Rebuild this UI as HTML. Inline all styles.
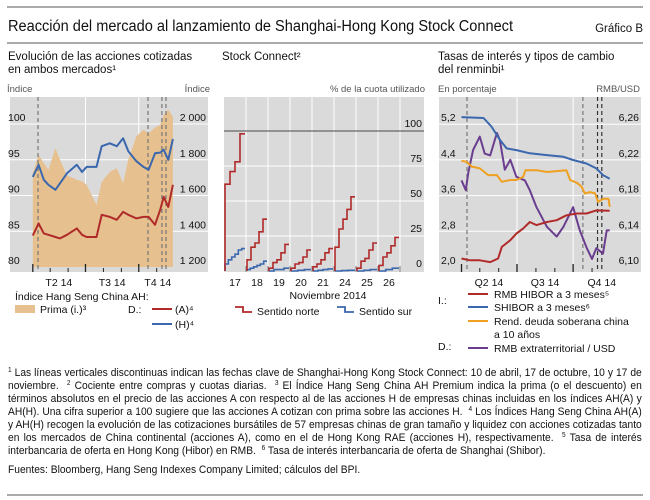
<!DOCTYPE html>
<html><head><meta charset="utf-8">
<style>
body{margin:0;width:650px;height:500px;background:#fff;overflow:hidden;font-family:"Liberation Sans",sans-serif;}
#root{position:relative;width:650px;height:500px;}
.fn{position:absolute;left:8px;width:680px;font-size:11px;line-height:13px;color:#111;text-align:justify;transform:scaleX(0.932);transform-origin:0 0;}
.fn sup{font-size:7px;line-height:0;vertical-align:4px;}
</style></head>
<body>
<div id="root">
<svg id="svg" width="650" height="500" style="position:absolute;left:0;top:0" font-family="Liberation Sans, sans-serif">
<line x1="7" y1="7" x2="643" y2="7" stroke="#777" stroke-width="1.2"/>
<text x="8" y="31" font-size="15.5" fill="#111" textLength="505" lengthAdjust="spacingAndGlyphs">Reacción del mercado al lanzamiento de Shanghai-Hong Kong Stock Connect</text>
<text x="643" y="32" font-size="11.5" fill="#111" text-anchor="end">Gráfico B</text>
<line x1="7" y1="43" x2="643" y2="43" stroke="#777" stroke-width="1.2"/>
<g id="p1"></g>
<g id="p2"></g>
<g id="p3"></g>
<line x1="7" y1="495" x2="643" y2="495" stroke="#777" stroke-width="1.2"/>
</svg>
<div class="fn" style="top:367px"><sup>1</sup> Las líneas verticales discontinuas indican las fechas clave de Shanghai-Hong Kong Stock Connect: 10 de abril, 17 de octubre, 10 y 17 de noviembre. &nbsp;<sup>2</sup> Cociente entre compras y cuotas diarias. &nbsp;<sup>3</sup> El Índice Hang Seng China AH Premium indica la prima (o el descuento) en términos absolutos en el precio de las acciones A con respecto al de las acciones H de empresas chinas incluidas en los índices AH(A) y AH(H). Una cifra superior a 100 sugiere que las acciones A cotizan con prima sobre las acciones H. &nbsp;<sup>4</sup> Los Índices Hang Seng China AH(A) y AH(H) recogen la evolución de las cotizaciones bursátiles de 57 empresas chinas de gran tamaño y liquidez con acciones cotizadas tanto en los mercados de China continental (acciones A), como en el de Hong Kong RAE (acciones H), respectivamente. &nbsp;<sup>5</sup> Tasa de interés interbancaria de oferta en Hong Kong (Hibor) en RMB. &nbsp;<sup>6</sup> Tasa de interés interbancaria de oferta de Shanghai (Shibor).</div>
<div class="fn" style="top:464px">Fuentes: Bloomberg, Hang Seng Indexes Company Limited; cálculos del BPI.</div>
</div>
<script>
// ---------- Panel 1 data (days since 1 Apr 2014) ----------
const p1Days = [0,10,19,27,39,47,59,76,85,93,110,119,133,145,156,165,179,191,200,211,220,226,234,242];
const p1H    = [92.6,94.3,92.2,91.5,90.8,91.7,93.1,94.3,93.3,94,94,96.9,97.3,96.9,98,96.2,94.8,94,93.6,95.9,96,96.4,95,97.9];
const p1A    = [84.4,86.1,84.7,84.5,84.2,84,84.5,85.4,84.5,84.2,84.2,87.3,87,86.6,87.7,87.3,86.8,87,87,85.9,88,89.8,88.4,91.5];
const p1Prem = [93.1,95.7,94.5,93.6,96.6,95,92.8,92.2,92,91.5,88.7,91.9,93.3,93.8,91.7,95,98.3,99.2,98.7,99.5,99.9,101.3,102,101];
const p1LeftTicks = [80,85,90,95,100];
const p1RightTicks = ["1 200","1 400","1 600","1 800","2 000"];
const p1Quarters = ["T2 14","T3 14","T4 14"];
const keyDays = [9,199,223,230];
// ---------- Panel 2 data ----------
const p2DayLabels = ["17","18","19","20","21","24","25","26"];
const p2North = [[62,71,78,98],[8,17,20,28,37],[2,6,8,13,19],[2,5,6,10,15],[3,5,8,13,16],[17,30,37,44,53],[2,7,9,15,20],[4,10,13,18,24]];
const p2South = [[5,8,10,12,15,16],[1,2,3,4,5,7],[0,1,1,2],[0,0.5,1],[0,0.5,1,1.5],[0,0.3,0.5],[0,0.5,1],[0,1,2]];
const p2Ticks = [0,25,50,75,100];
// ---------- Panel 3 data ----------
const p3ShiborDays = [0,36,49,63,74,90,112,140,167,183,205,221,232,243];
const p3Shibor = [5.36,5.34,5.15,4.85,4.66,4.62,4.55,4.51,4.47,4.4,4.32,4.21,4.06,3.98];
const p3BondDays = [0,8,17,30,44,58,66,80,90,101,105,123,140,172,178,189,197,202,211,219,224,232,241,243];
const p3Bond = [4.38,4.36,4.25,4.21,4.06,4.06,3.91,3.95,3.95,4.02,4.17,4.17,4.13,4.17,3.95,3.89,3.8,3.65,3.68,3.65,3.46,3.53,3.53,3.35];
const p3HiborDays = [0,14,30,47,60,66,80,90,101,112,123,140,156,172,189,205,221,243];
const p3Hibor = [2.19,2.15,2.15,2.11,2.19,2.45,2.6,2.75,2.86,3.01,2.94,3.01,3.05,3.16,3.2,3.2,3.27,3.26];
const p3RmbDays = [0,7,11,19,30,38,47,58,63,71,80,90,104,112,123,140,156,167,183,194,205,214,221,232,238,243];
const p3Rmb = [6.197,6.186,6.205,6.231,6.246,6.227,6.225,6.25,6.242,6.209,6.22,6.201,6.197,6.186,6.167,6.145,6.134,6.145,6.167,6.141,6.122,6.109,6.121,6.115,6.141,6.141];
const p3LeftTicks = ["2,0","2,8","3,6","4,4","5,2"];
const p3RightTicks = ["6,10","6,14","6,18","6,22","6,26"];
const p3Quarters = ["Q2 14","Q3 14","Q4 14"];

const NS="http://www.w3.org/2000/svg";
function mk(parent,tag,attrs,text){const e=document.createElementNS(NS,tag);for(const k in attrs)e.setAttribute(k,attrs[k]);if(text!==undefined)e.textContent=text;parent.appendChild(e);return e;}
const BG="#dadada", FS=10.5;

// ---------------- Panel 1 ----------------
(function(){
const g=document.getElementById('p1');
const X0=10,X1=208,Y0=97,Y1=272;
const x=d=>32.8+d*0.579;
const yL=v=>267-(v-80)*7.15;
let t;
t=mk(g,'text',{x:8,y:60,'font-size':11.5,fill:'#111'},'Evolución de las acciones cotizadas');

t=mk(g,'text',{x:8,y:73,'font-size':11.5,fill:'#111'},'en ambos mercados¹');

t=mk(g,'text',{x:7,y:92,'font-size':FS-1,fill:'#555'},'Índice');

t=mk(g,'text',{x:210,y:92,'font-size':FS-1,fill:'#555','text-anchor':'end'},'Índice');

const bg=mk(g,'rect',{x:X0,y:Y0,width:X1-X0,height:Y1-Y0,fill:BG});

p1LeftTicks.forEach((v,i)=>{const yy=yL(v);
 if(i>0)mk(g,'line',{x1:X0,x2:X1,y1:yy,y2:yy,stroke:'#fff','stroke-width':1});
 t=mk(g,'text',{x:8,y:yy-3,'font-size':FS,fill:'#111'},v);
 
 t=mk(g,'text',{x:206,y:yy-3,'font-size':FS,fill:'#111','text-anchor':'end'},p1RightTicks[i]);
 
});
[91,183].forEach(d=>mk(g,'line',{x1:x(d),x2:x(d),y1:Y0,y2:Y1,stroke:'#fff','stroke-width':1}));
let dA='M'+x(p1Days[0])+','+yL(80);
p1Days.forEach((d,i)=>dA+=' L'+x(d).toFixed(1)+','+yL(p1Prem[i]).toFixed(1));
dA+=' L'+x(p1Days[p1Days.length-1])+','+yL(80)+'Z';
const ar=mk(g,'path',{d:dA,fill:'#e6c08e'});

keyDays.forEach(d=>{const l=mk(g,'line',{x1:x(d),x2:x(d),y1:Y0,y2:Y1,stroke:'#777','stroke-width':1.2,'stroke-dasharray':'4,3'});
 });
function line(vals,col,name){let d='';p1Days.forEach((dd,i)=>d+=(i?' L':'M')+x(dd).toFixed(1)+','+yL(vals[i]).toFixed(1));
 const p=mk(g,'path',{d:d,fill:'none',stroke:col,'stroke-width':2,'stroke-linejoin':'round'});
 }
line(p1H,'#3a67ad','series-h');line(p1A,'#b02a2a','series-a');
[0,91,183].forEach(d=>mk(g,'line',{x1:x(d),x2:x(d),y1:Y1-8,y2:Y1,stroke:'#222','stroke-width':1.3}));
[30,61,122,153,214].forEach(d=>mk(g,'line',{x1:x(d),x2:x(d),y1:Y1-4,y2:Y1,stroke:'#222','stroke-width':1}));
[45,137,216].forEach((d,i)=>{t=mk(g,'text',{x:x(d),y:286,'font-size':FS,fill:'#111','text-anchor':'middle'},p1Quarters[i]);
 });
t=mk(g,'text',{x:15,y:300,'font-size':FS,fill:'#111'},'Índice Hang Seng China AH:');

const sw=mk(g,'rect',{x:15,y:305,width:20,height:8,fill:'#e6c08e'});

t=mk(g,'text',{x:40,y:313,'font-size':FS,fill:'#111'},'Prima (i.)³');

t=mk(g,'text',{x:128,y:313,'font-size':FS,fill:'#111'},'D.:');

mk(g,'line',{x1:152,x2:172,y1:309,y2:309,stroke:'#b02a2a','stroke-width':2});
t=mk(g,'text',{x:175,y:313,'font-size':FS,fill:'#111'},'(A)⁴');

mk(g,'line',{x1:152,x2:172,y1:324,y2:324,stroke:'#3a67ad','stroke-width':2});
t=mk(g,'text',{x:175,y:328,'font-size':FS,fill:'#111'},'(H)⁴');

})();

// ---------------- Panel 2 ----------------
(function(){
const g=document.getElementById('p2');
const X0=224,X1=424,Y0=97,Y1=272,W=22;
const y=v=>271-v*1.4;
let t;
t=mk(g,'text',{x:222,y:60,'font-size':11.5,fill:'#111'},'Stock Connect²');

t=mk(g,'text',{x:425,y:92,'font-size':FS-1,fill:'#555','text-anchor':'end'},'% de la cuota utilizado');

const bg=mk(g,'rect',{x:X0,y:Y0,width:X1-X0,height:Y1-Y0,fill:BG});

p2Ticks.forEach(v=>{const yy=y(v);
 if(v>0&&v<100)mk(g,'line',{x1:X0,x2:X1,y1:yy,y2:yy,stroke:'#fff','stroke-width':1});
 t=mk(g,'text',{x:422,y:yy-4,'font-size':FS,fill:'#111','text-anchor':'end'},v);
 });
for(let i=1;i<=8;i++){const xx=X0+i*W;mk(g,'line',{x1:xx,x2:xx,y1:Y0,y2:Y1,stroke:'#fff','stroke-width':1});
 mk(g,'line',{x1:xx,x2:xx,y1:Y1-6,y2:Y1,stroke:'#888','stroke-width':1});}
const cap=mk(g,'line',{x1:X0,x2:X1,y1:y(100),y2:y(100),stroke:'#666','stroke-width':1.3});

function steps(arr,col,name){arr.forEach((s,di)=>{const x0=X0+di*W+1,w=W-2;let d='M'+x0+','+y(0);
 s.forEach((v,k)=>{const xs=x0+k*w/s.length;d+=' L'+xs.toFixed(1)+','+y(v).toFixed(1)+' L'+(x0+(k+1)*w/s.length).toFixed(1)+','+y(v).toFixed(1);});
 const p=mk(g,'path',{d:d,fill:'none',stroke:col,'stroke-width':1.6});
 });}
steps(p2South,'#3a67ad','southbound-steps');steps(p2North,'#b02a2a','northbound-steps');
p2DayLabels.forEach((l,i)=>{t=mk(g,'text',{x:X0+i*W+W/2,y:286,'font-size':FS,fill:'#111','text-anchor':'middle'},l);
 });
t=mk(g,'text',{x:328,y:299,'font-size':FS,fill:'#111','text-anchor':'middle'},'Noviembre 2014');

mk(g,'path',{d:'M235,307 L243,307 L243,312 L252,312',fill:'none',stroke:'#b02a2a','stroke-width':1.8});
t=mk(g,'text',{x:257,y:315,'font-size':FS,fill:'#111'},'Sentido norte');

mk(g,'path',{d:'M337,307 L345,307 L345,312 L354,312',fill:'none',stroke:'#3a67ad','stroke-width':1.8});
t=mk(g,'text',{x:359,y:315,'font-size':FS,fill:'#111'},'Sentido sur');

})();

// ---------------- Panel 3 ----------------
(function(){
const g=document.getElementById('p3');
const X0=439,X1=641,Y0=97,Y1=272;
const x=d=>461.5+d*0.61;
const yL=v=>267-(v-2.0)*44.6;
const yR=v=>267-(v-6.10)*893;
let t;
t=mk(g,'text',{x:438,y:60,'font-size':11.5,fill:'#111'},'Tasas de interés y tipos de cambio');

t=mk(g,'text',{x:438,y:73,'font-size':11.5,fill:'#111'},'del renminbi¹');

t=mk(g,'text',{x:438,y:92,'font-size':FS-1,fill:'#555'},'En porcentaje');

t=mk(g,'text',{x:640,y:92,'font-size':FS-1,fill:'#555','text-anchor':'end'},'RMB/USD');

const bg=mk(g,'rect',{x:X0,y:Y0,width:X1-X0,height:Y1-Y0,fill:BG});

p3LeftTicks.forEach((l,i)=>{const yy=267-i*35.7;
 if(i>0)mk(g,'line',{x1:X0,x2:X1,y1:yy,y2:yy,stroke:'#fff','stroke-width':1});
 t=mk(g,'text',{x:441,y:yy-3,'font-size':FS,fill:'#111'},l);
 
 t=mk(g,'text',{x:639,y:yy-3,'font-size':FS,fill:'#111','text-anchor':'end'},p3RightTicks[i]);
 });
[91,183].forEach(d=>mk(g,'line',{x1:x(d),x2:x(d),y1:Y0,y2:Y1,stroke:'#fff','stroke-width':1}));
keyDays.forEach(d=>{const l=mk(g,'line',{x1:x(d),x2:x(d),y1:Y0,y2:Y1,stroke:d>=223?'#333':'#777','stroke-width':1.2,'stroke-dasharray':'4,3'});
 });
function line(days,vals,sc,col,name){let d='';days.forEach((dd,i)=>d+=(i?' L':'M')+x(dd).toFixed(1)+','+sc(vals[i]).toFixed(1));
 const p=mk(g,'path',{d:d,fill:'none',stroke:col,'stroke-width':2,'stroke-linejoin':'round'});
 }
line(p3RmbDays,p3Rmb,yR,'#6a3d8f','series-rmb-offshore');
line(p3HiborDays,p3Hibor,yL,'#b02a2a','series-hibor');
line(p3BondDays,p3Bond,yL,'#f0a020','series-bond-10y');
line(p3ShiborDays,p3Shibor,yL,'#3a67ad','series-shibor');
[0,91,183].forEach(d=>mk(g,'line',{x1:x(d),x2:x(d),y1:Y1-8,y2:Y1,stroke:'#222','stroke-width':1.3}));
[30,61,122,153,214].forEach(d=>mk(g,'line',{x1:x(d),x2:x(d),y1:Y1-4,y2:Y1,stroke:'#222','stroke-width':1}));
[45,137,230].forEach((d,i)=>{t=mk(g,'text',{x:x(d),y:286,'font-size':FS,fill:'#111','text-anchor':'middle'},p3Quarters[i]);
 });
t=mk(g,'text',{x:438,y:304,'font-size':FS,fill:'#111'},'I.:');

const rows=[[298,'#b02a2a','RMB HIBOR a 3 meses⁵','legend-entry-hibor'],[311,'#3a67ad','SHIBOR a 3 meses⁶','legend-entry-shibor'],[325,'#f0a020','Rend. deuda soberana china','legend-entry-bond'],[352,'#6a3d8f','RMB extraterritorial / USD','legend-entry-rmb']];
rows.forEach(r=>{mk(g,'line',{x1:468,x2:488,y1:r[0]-4,y2:r[0]-4,stroke:r[1],'stroke-width':2});
 t=mk(g,'text',{x:494,y:r[0],'font-size':FS,fill:'#111'},r[2]);
 });
t=mk(g,'text',{x:494,y:338,'font-size':FS,fill:'#111'},'a 10 años');

t=mk(g,'text',{x:438,y:350,'font-size':FS,fill:'#111'},'D.:');

})();
</script>
</body></html>
